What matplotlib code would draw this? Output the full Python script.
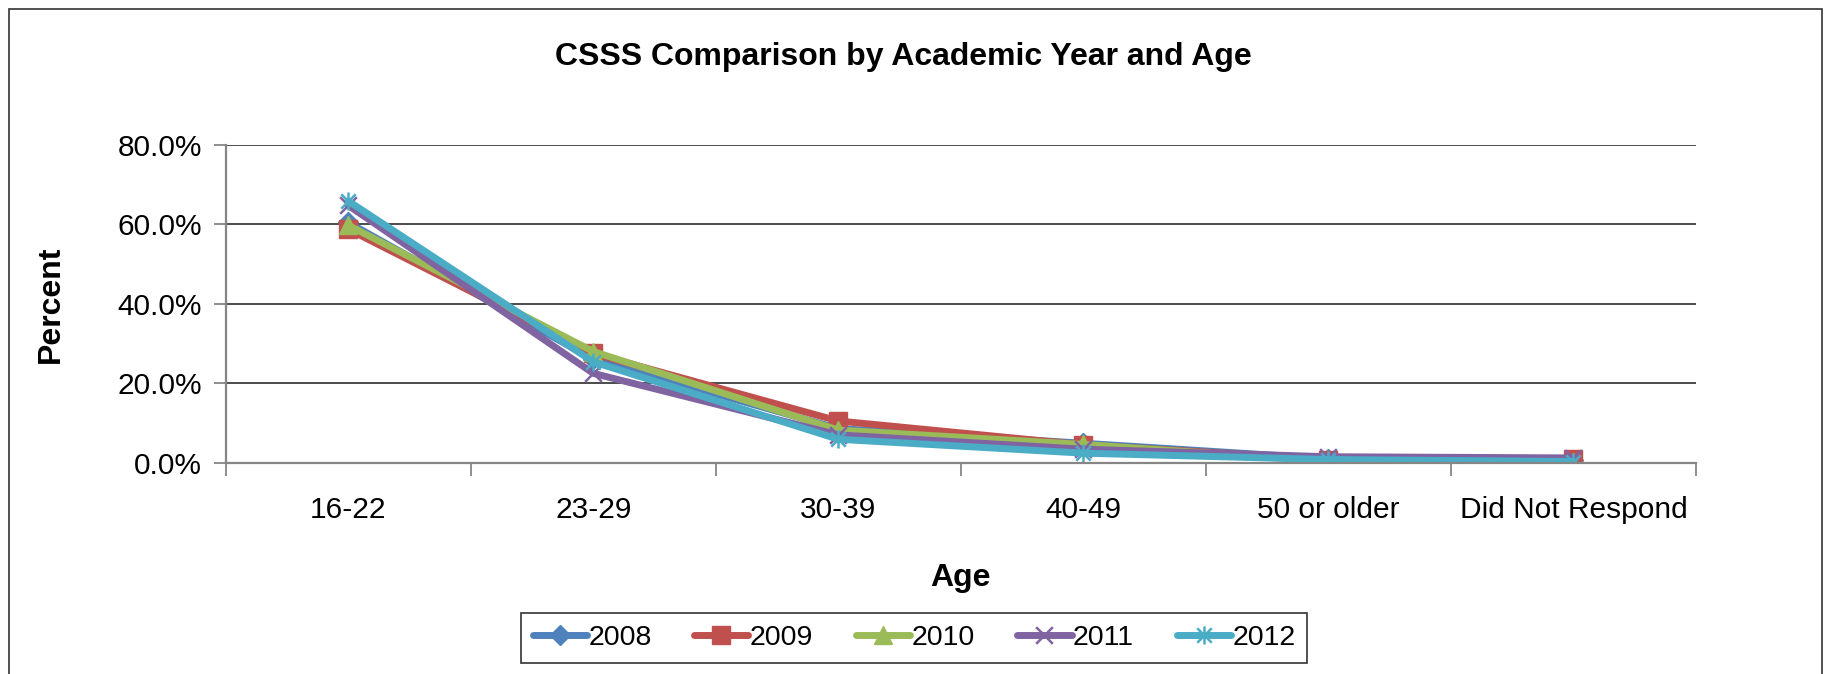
import matplotlib
matplotlib.use("Agg")
import matplotlib.pyplot as plt
from matplotlib.path import Path
from matplotlib.patches import Rectangle
from matplotlib.ticker import FuncFormatter, FixedLocator

plt.rcParams['font.family'] = ['Liberation Sans', 'DejaVu Sans']

categories = ["16-22", "23-29", "30-39", "40-49", "50 or older", "Did Not Respond"]
years = ["2008", "2009", "2010", "2011", "2012"]
v2008 = [60.5, 26.0, 8.6, 4.9, 1.0, 0.8]
v2009 = [58.8, 27.5, 10.5, 4.5, 0.8, 1.0]
v2010 = [59.8, 28.0, 8.2, 4.6, 0.3, 0.3]
v2011 = [64.8, 22.5, 7.0, 3.4, 1.5, 1.2]
v2012 = [65.9, 25.4, 5.9, 2.4, 0.8, 0.3]
series = [v2008, v2009, v2010, v2011, v2012]
yticks = [0, 20, 40, 60, 80]

colors = ["#4F81BD", "#C0504D", "#9BBB59", "#8064A2", "#4BACC6"]

asterisk = Path([(-1, -1), (1, 1), (-1, 1), (1, -1), (0, -1.25), (0, 1.25)],
                [Path.MOVETO, Path.LINETO, Path.MOVETO, Path.LINETO, Path.MOVETO, Path.LINETO])
xmark = Path([(-1, -1), (1, 1), (-1, 1), (1, -1)],
             [Path.MOVETO, Path.LINETO, Path.MOVETO, Path.LINETO])
markers = ["D", "s", "^", xmark, asterisk]
msizes = [10, 13, 13, 12, 13]
filled = [True, True, True, False, False]

fig = plt.figure(figsize=(18.37, 6.74), dpi=100)
ax = fig.add_axes([225.7 / 1837, 1 - 462.7 / 674, (1696 - 225.7) / 1837, (462.7 - 145) / 674])

x = list(range(len(categories)))
for vals, yr, c, m, ms, f in zip(series, years, colors, markers, msizes, filled):
    if f:
        ax.plot(x, vals, color=c, lw=5, marker=m, ms=ms, mfc=c, mec=c, label=yr,
                solid_capstyle='round', solid_joinstyle='round')
    else:
        ax.plot(x, vals, color=c, lw=5, marker=m, ms=ms, mfc='none', mec=c, mew=1.8,
                label=yr, solid_capstyle='round', solid_joinstyle='round')

ax.set_xlim(-0.5, len(categories) - 0.5)
ax.set_ylim(0, 80)
ax.set_yticks(yticks)
ax.yaxis.set_major_formatter(FuncFormatter(lambda v, p: f"{v:.1f}%"))
ax.set_xticks(x)
ax.set_xticklabels(categories)
ax.xaxis.set_minor_locator(FixedLocator([i - 0.5 for i in range(len(categories) + 1)]))
ax.tick_params(axis='x', which='major', length=0, labelsize=21.5, pad=24)
ax.tick_params(axis='x', which='minor', length=9, width=1.3, color='#868686', direction='out')
ax.tick_params(axis='y', which='major', length=9, width=1.3, color='#868686', labelsize=21.5, pad=8)

ax.grid(axis='y', color='#1a1a1a', lw=1.1)
ax.set_axisbelow(True)
for s in ['top', 'right']:
    ax.spines[s].set_visible(False)
for s in ['left', 'bottom']:
    ax.spines[s].set_color('#868686')
    ax.spines[s].set_linewidth(1.6)

ax.set_ylabel("Percent", fontsize=23, fontweight='bold', labelpad=37)
ax.set_xlabel("Age", fontsize=23, fontweight='bold', labelpad=28)
fig.text(903 / 1837, 1 - 57 / 674, "CSSS Comparison by Academic Year and Age",
         ha='center', va='center', fontsize=23, fontweight='bold')

leg = ax.legend(loc='center', bbox_to_anchor=(914 / 1837, 1 - 638 / 674),
                bbox_transform=fig.transFigure, ncol=5, fontsize=20.5, frameon=True,
                fancybox=False, edgecolor='black', handlelength=1.9, handletextpad=0.05,
                columnspacing=1.5, borderpad=0.42)
leg.get_frame().set_linewidth(1.2)

fig.patches.append(Rectangle((9 / 1837, -0.01), (1822 - 9) / 1837, 1.01 - 9 / 674,
                             transform=fig.transFigure, fill=False, ec='#333333', lw=1.2))

fig.savefig("out.png", dpi=100)
